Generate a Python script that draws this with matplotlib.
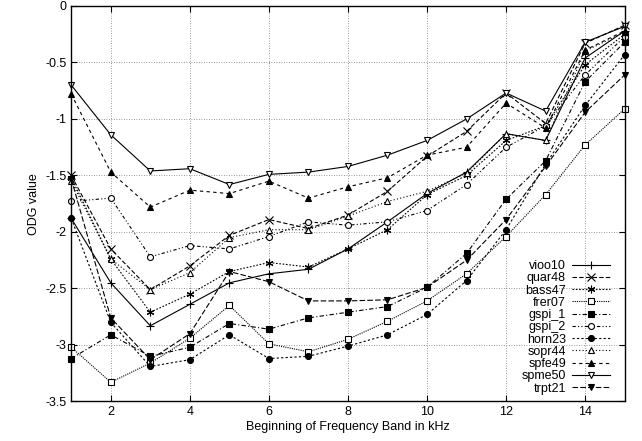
import numpy as np
import matplotlib
matplotlib.use("Agg")
import matplotlib.pyplot as plt

plt.rcParams["font.family"] = ["Liberation Sans", "DejaVu Sans"]

bands = list(range(1, 16))

vioo10 = [-1.88, -2.45, -2.83, -2.64, -2.45, -2.37, -2.33, -2.15, -1.91, -1.66, -1.47, -1.13, -1.19, -0.46, -0.22]
quar48 = [-1.50, -2.15, -2.51, -2.30, -2.03, -1.89, -1.97, -1.85, -1.64, -1.33, -1.11, -0.77, -1.04, -0.33, -0.17]
bass47 = [-1.52, -2.24, -2.71, -2.55, -2.35, -2.27, -2.31, -2.15, -1.98, -1.67, -1.50, -1.19, -1.06, -0.52, -0.25]
frer07 = [-3.02, -3.33, -3.16, -2.94, -2.65, -2.99, -3.06, -2.95, -2.79, -2.61, -2.37, -2.04, -1.67, -1.23, -0.91]
gspi_1 = [-3.12, -2.91, -3.10, -3.02, -2.81, -2.86, -2.76, -2.71, -2.66, -2.49, -2.19, -1.71, -1.37, -0.67, -0.32]
gspi_2 = [-1.73, -1.70, -2.22, -2.12, -2.15, -2.04, -1.91, -1.94, -1.91, -1.81, -1.58, -1.25, -1.06, -0.61, -0.27]
horn23 = [-1.88, -2.80, -3.19, -3.13, -2.91, -3.12, -3.10, -3.01, -2.91, -2.73, -2.43, -1.98, -1.40, -0.88, -0.43]
sopr44 = [-1.55, -2.24, -2.51, -2.36, -2.05, -1.98, -1.98, -1.86, -1.73, -1.64, -1.48, -1.13, -1.19, -0.40, -0.23]
spfe49 = [-0.78, -1.47, -1.78, -1.63, -1.66, -1.55, -1.70, -1.60, -1.52, -1.32, -1.25, -0.86, -1.08, -0.39, -0.22]
spme50 = [-0.70, -1.14, -1.46, -1.44, -1.58, -1.49, -1.47, -1.42, -1.32, -1.19, -1.00, -0.77, -0.93, -0.32, -0.18]
trpt21 = [-1.53, -2.76, -3.13, -2.90, -2.35, -2.44, -2.61, -2.61, -2.60, -2.49, -2.25, -1.89, -1.42, -0.94, -0.61]

# (name, values, marker, filled, dash pattern)
series = [
    ("vioo10", vioo10, "+", True, "-"),
    ("quar48", quar48, "x", True, (0, (4, 2))),
    ("bass47", bass47, (6, 2, 0), True, (0, (1.5, 1.5))),
    ("frer07", frer07, "s", False, (0, (1, 1))),
    ("gspi_1", gspi_1, "s", True, (0, (4, 2, 1, 2))),
    ("gspi_2", gspi_2, "o", False, (0, (3, 2, 1, 2, 1, 2))),
    ("horn23", horn23, "o", True, (0, (2, 2))),
    ("sopr44", sopr44, "^", False, (0, (1, 2))),
    ("spfe49", spfe49, "^", True, (0, (3, 3))),
    ("spme50", spme50, "v", False, "-"),
    ("trpt21", trpt21, "v", True, (0, (5, 2))),
]

fig = plt.figure(figsize=(6.42, 4.41), dpi=100)
ax = fig.add_axes([0.111, 0.0896, 0.862, 0.8968])

for name, vals, mk, filled, ls in series:
    ms = 4.3 if mk not in ("+", "x", (6, 2, 0)) else 5.5
    ax.plot(bands, vals, color="black", lw=0.8, linestyle=ls,
            marker=mk, markersize=ms, markeredgewidth=0.8,
            markerfacecolor="black" if filled else "white",
            markeredgecolor="black", label=name, clip_on=False)

ax.set_xlim(1, 15)
ax.set_ylim(-3.5, 0)
ax.set_xticks(range(2, 15, 2))
ax.set_yticks(np.arange(-3.5, 0.01, 0.5))
ax.set_yticklabels(["-3.5", "-3", "-2.5", "-2", "-1.5", "-1", "-0.5", "0"])
ax.tick_params(direction="in", top=True, right=True, length=4, labelsize=9)
ax.grid(True, color="#777777", linestyle=(0, (1, 2)), linewidth=0.6)
for s in ax.spines.values():
    s.set_linewidth(1.0)

ax.set_xlabel("Beginning of Frequency Band in kHz", fontsize=9, labelpad=2)
ax.set_ylabel("ODG value", fontsize=9, labelpad=4)

leg = ax.legend(loc="lower right", frameon=False, markerfirst=False,
                fontsize=9, handlelength=3.0, labelspacing=0.02,
                handletextpad=0.5, borderaxespad=0.0,
                bbox_to_anchor=(0.982, 0.005))
for t in leg.get_texts():
    t.set_ha("right")

fig.savefig("out.png", dpi=100)
